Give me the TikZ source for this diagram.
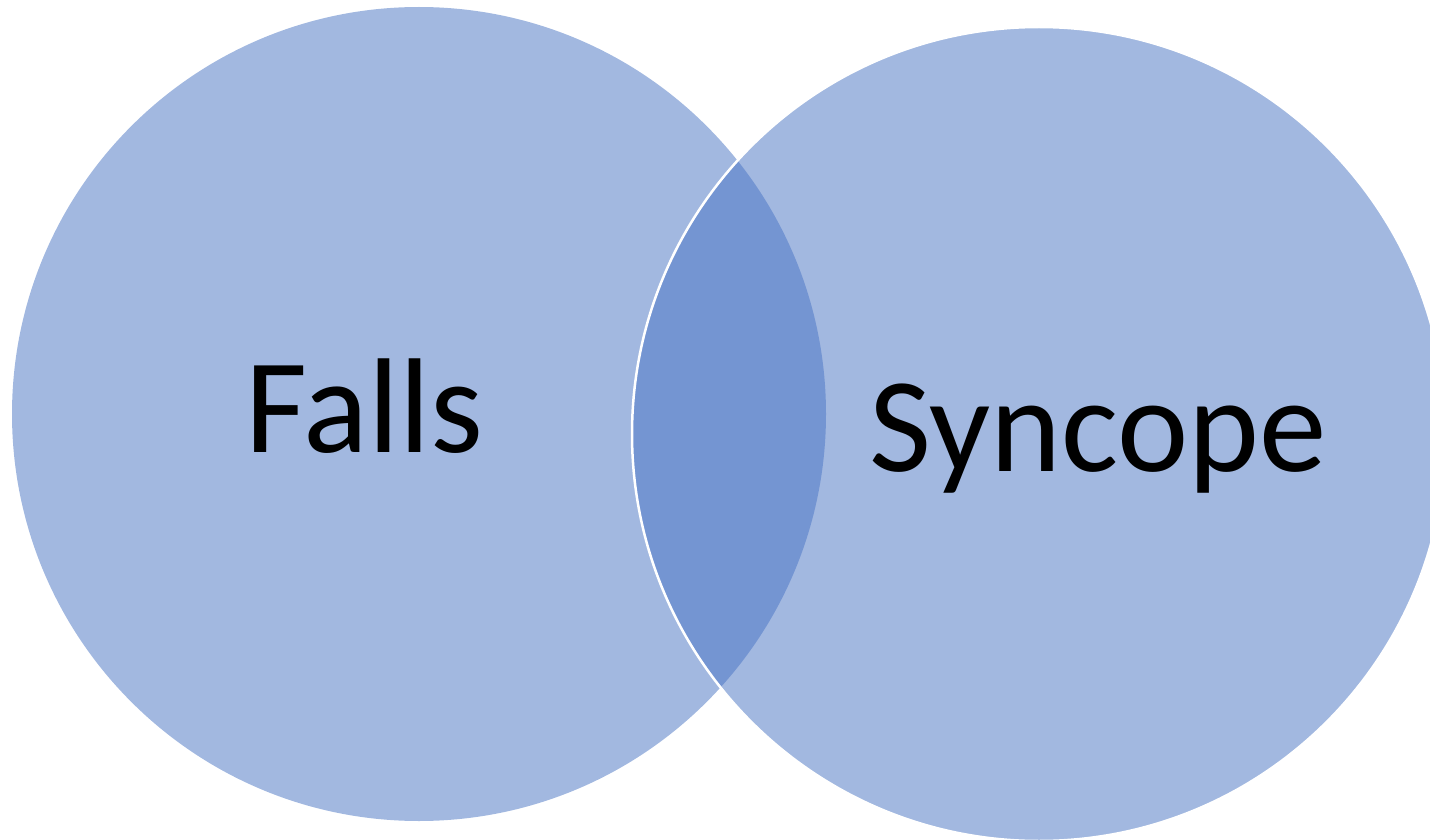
\documentclass[tikz,border=0pt]{standalone}
\usepackage{fontspec}
\setmainfont{Carlito}
\definecolor{setfill}{RGB}{162,184,224}
\definecolor{lensfill}{RGB}{116,149,210}
\begin{document}
\begin{tikzpicture}[x=1pt,y=-1pt,
  lbl/.style={anchor=base,inner sep=0pt,font=\fontsize{135}{160}\selectfont,text=black}]
\useasboundingbox (0,0) rectangle (1430,840);
\begin{scope}
\clip (0,0) rectangle (1430,840);
\coordinate (cL) at (419,414);
\coordinate (cR) at (1039,434);
\fill[setfill] (cL) circle (407);
\fill[setfill] (cR) circle (407);
\begin{scope}
\clip (cL) circle (407);
\fill[lensfill] (cR) circle (407);
\end{scope}
\draw[white,line width=2.5pt] (cR) circle (407);
\end{scope}
\node[lbl] (falls) at (364,452) {Falls};
\node[lbl] (syncope) at (1098,471) {Syncope};
\end{tikzpicture}
\end{document}
